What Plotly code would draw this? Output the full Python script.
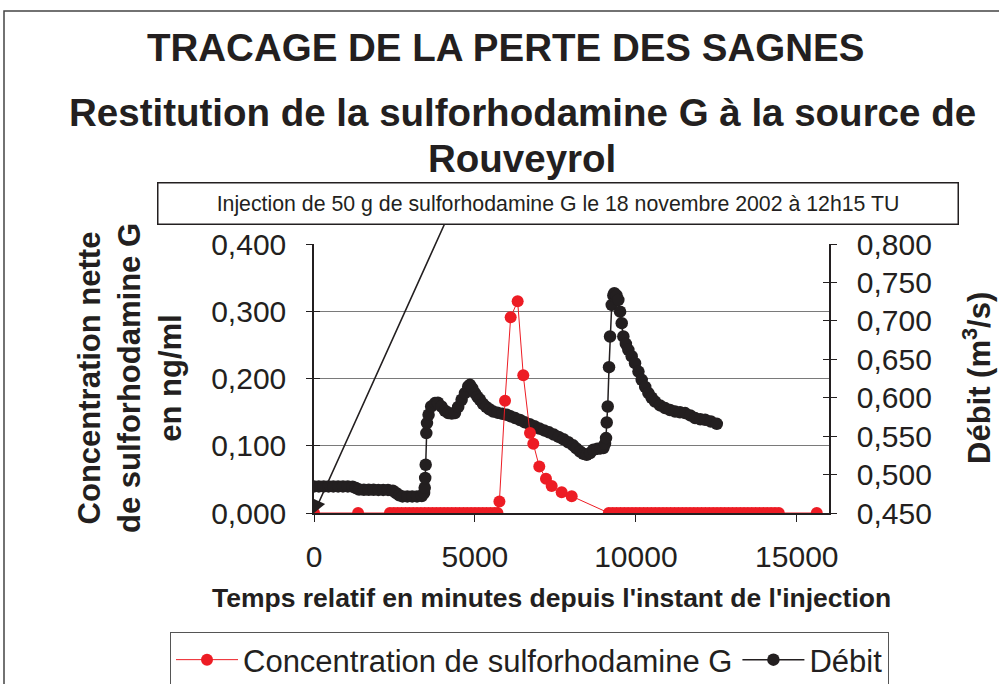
import plotly.graph_objects as go

# ---------------- data ----------------
conc_time = [0, 1370,
             2360, 2480, 2600, 2720, 2840, 2960, 3080, 3200, 3320, 3440, 3560, 3680, 3800, 3920,
             4040, 4160, 4280, 4400, 4520, 4640, 4760, 4880, 5000, 5120, 5240, 5360, 5480, 5600, 5700,
             5760, 5935, 6110, 6327, 6502, 6710, 6813, 6999, 7207, 7384, 7695, 8006,
             9160, 9280, 9400, 9520, 9640, 9760, 9880, 10000, 10120, 10240, 10360, 10480, 10600,
             10720, 10840, 10960, 11080, 11200, 11320, 11440, 11560, 11680, 11800, 11920, 12040,
             12160, 12280, 12400, 12520, 12640, 12760, 12880, 13000, 13120, 13240, 13360, 13480,
             13600, 13720, 13840, 13960, 14080, 14200, 14320, 14440,
             15620]
conc_value = [0, 0,
              0, 0, 0, 0, 0, 0, 0, 0, 0, 0, 0, 0, 0, 0,
              0, 0, 0, 0, 0, 0, 0, 0, 0, 0, 0, 0, 0, 0, 0,
              0.017, 0.167, 0.291, 0.315, 0.205, 0.119, 0.103, 0.069, 0.051, 0.040, 0.031, 0.025,
              0, 0, 0, 0, 0, 0, 0, 0, 0, 0, 0, 0, 0,
              0, 0, 0, 0, 0, 0, 0, 0, 0, 0, 0, 0,
              0, 0, 0, 0, 0, 0, 0, 0, 0, 0, 0, 0,
              0, 0, 0, 0, 0, 0, 0, 0,
              0]

debit_time = [0, 150, 300, 450, 600, 750, 900, 1050, 1200, 1300, 1400, 1550, 1700, 1850, 2000,
              2150, 2300, 2450, 2550, 2650, 2750, 2900, 3050, 3200, 3350, 3420, 3440, 3455, 3470,
              3490, 3510, 3560, 3640, 3760, 3850, 3960, 4070, 4170, 4280, 4380, 4480, 4586, 4690,
              4791, 4844, 4920, 5000, 5080, 5155, 5250, 5350, 5450, 5569, 5700, 5850, 5985, 6100,
              6250, 6400, 6550, 6700, 6850, 7000, 7150, 7300, 7450, 7600, 7750, 7900, 8050, 8150,
              8264, 8370, 8472, 8580, 8679, 8800, 8900, 8990, 9040, 9073, 9094, 9126, 9166, 9197,
              9250, 9300, 9331, 9400, 9455, 9510, 9561, 9611, 9690, 9766, 9870, 9974, 10080, 10182,
              10290, 10389, 10490, 10596, 10750, 10907, 11060, 11218, 11370, 11529, 11690, 11840,
              12000, 12151, 12330, 12515]
debit_value = [0.4846, 0.4846, 0.4846, 0.4846, 0.4846, 0.4846, 0.4846, 0.4846, 0.4843, 0.4825,
               0.4805, 0.4803, 0.4803, 0.4803, 0.4800, 0.4800, 0.4800, 0.4790, 0.4760, 0.4730,
               0.4716, 0.4716, 0.4716, 0.4716, 0.4720, 0.4760, 0.4830, 0.4955, 0.5128, 0.5540,
               0.5670, 0.5778, 0.5886, 0.5930, 0.5935, 0.5886, 0.5830, 0.5800, 0.5795, 0.5800,
               0.5880, 0.5973, 0.6060, 0.6146, 0.6168, 0.6120, 0.6060, 0.6010, 0.5973, 0.5920,
               0.5880, 0.5850, 0.5820, 0.5805, 0.5790, 0.5778, 0.5760, 0.5735, 0.5710, 0.5680,
               0.5655, 0.5630, 0.5600, 0.5575, 0.5550, 0.5520, 0.5490, 0.5460, 0.5420, 0.5380,
               0.5340, 0.5300, 0.5270, 0.5258, 0.5280, 0.5323, 0.5335, 0.5340, 0.5345, 0.5400,
               0.5475, 0.5678, 0.5886, 0.6398, 0.6796, 0.7207, 0.7330, 0.7360, 0.7330, 0.7272,
               0.7120, 0.6970, 0.6796, 0.6700, 0.6623, 0.6540, 0.6450, 0.6340, 0.6233, 0.6140,
               0.6060, 0.6000, 0.5950, 0.5900, 0.5865, 0.5840, 0.5820, 0.5810, 0.5800, 0.5770,
               0.5735, 0.5720, 0.5713, 0.5690, 0.5660]

x_ticks = [0, 5000, 10000, 15000]
conc_ticks = [0, 0.1, 0.2, 0.3, 0.4]
debit_ticks = [0.45, 0.5, 0.55, 0.6, 0.65, 0.7, 0.75, 0.8]

title1 = "TRACAGE DE LA PERTE DES SAGNES"
title2 = "Restitution de la sulforhodamine G à la source de"
title3 = "Rouveyrol"
note = "Injection de 50 g de sulforhodamine G le 18 novembre 2002 à 12h15 TU"

# ---------------- layout geometry ----------------
W, H = 999, 684
ML, MR, MT, MB = 314, 170, 244, 171
PW, PH = W - ML - MR, H - MT - MB
BOTTOM = MT + PH


def px(x):
    return (x - ML) / PW


def py(y):
    return (BOTTOM - y) / PH


FONT = "Liberation Sans, Arial, sans-serif"
INK = "#231f20"
RED = "#ed1c24"

fig = go.Figure()

fig.add_trace(go.Scatter(
    x=debit_time, y=debit_value, name="Débit", mode="lines+markers",
    line=dict(color=INK, width=1.5), marker=dict(color=INK, size=12.5),
    xaxis="x", yaxis="y"))
fig.add_trace(go.Scatter(
    x=conc_time, y=conc_value, name="Concentration de sulforhodamine G", mode="lines+markers",
    line=dict(color=RED, width=1), marker=dict(color=RED, size=12),
    xaxis="x", yaxis="y2"))
# helper traces for the inner half of the crossing tick marks
fig.add_trace(go.Scatter(x=[None], y=[None], yaxis="y3", showlegend=False, hoverinfo="skip"))
fig.add_trace(go.Scatter(x=[None], y=[None], yaxis="y4", showlegend=False, hoverinfo="skip"))

tickfont = dict(family=FONT, size=30, color=INK)

fig.update_layout(
    width=W, height=H,
    margin=dict(l=ML, r=MR, t=MT, b=MB, autoexpand=False),
    paper_bgcolor="white", plot_bgcolor="white",
    separators=", ",
    font=dict(family=FONT, color=INK),
    xaxis=dict(range=[0, 16000], tickvals=x_ticks, tickformat="d", showgrid=False,
               zeroline=False, showline=True, linecolor=INK, linewidth=1.5,
               ticks="outside", ticklen=7, tickcolor=INK, tickwidth=1.2,
               tickfont=tickfont, ticklabelstandoff=9),
    yaxis=dict(range=[0.45, 0.8], tickvals=debit_ticks, tickformat=".3f", side="right",
               showgrid=False, zeroline=False, showline=True, linecolor=INK, linewidth=1.5,
               ticks="outside", ticklen=6, tickcolor=INK, tickwidth=1.2,
               tickfont=tickfont, ticklabelstandoff=14),
    yaxis2=dict(range=[0, 0.4], tickvals=conc_ticks, tickformat=".3f", side="left",
                overlaying="y", showgrid=True, gridcolor="#7a7a7a", gridwidth=1,
                zeroline=False, showline=True, linecolor=INK, linewidth=1.5,
                ticks="outside", ticklen=6, tickcolor=INK, tickwidth=1.2,
                tickfont=tickfont, ticklabelstandoff=14),
    yaxis3=dict(range=[0, 0.4], tickvals=conc_ticks, side="left", overlaying="y",
                showgrid=False, zeroline=False, showline=False, showticklabels=False,
                ticks="inside", ticklen=6, tickcolor=INK, tickwidth=1.2),
    yaxis4=dict(range=[0.45, 0.8], tickvals=debit_ticks, side="right", overlaying="y",
                showgrid=False, zeroline=False, showline=False, showticklabels=False,
                ticks="inside", ticklen=6, tickcolor=INK, tickwidth=1.2),
    legend=dict(orientation="h", xref="paper", yref="paper",
                x=px(170), y=py(632), xanchor="left", yanchor="top",
                bordercolor="#555555", borderwidth=1, bgcolor="white",
                font=dict(family=FONT, size=31, color=INK),
                traceorder="reversed", itemwidth=62),
    showlegend=True,
)

ann = []
# arrow from note box to injection point
ann.append(dict(x=0, y=0, xref="paper", yref="paper", text="", showarrow=True,
                ax=131, ay=-290, arrowhead=2, arrowsize=1.6, arrowwidth=1.6,
                arrowcolor=INK, standoff=0))
# note box
ann.append(dict(x=px(557.5), y=py(203), xref="paper", yref="paper", text=note,
                showarrow=False, xanchor="center", yanchor="middle",
                width=797, height=38, bgcolor="white", bordercolor=INK, borderwidth=1.5,
                font=dict(family=FONT, size=21.3, color=INK)))
# titles
ann.append(dict(x=px(505), y=py(47), xref="paper", yref="paper", text="<b>%s</b>" % title1,
                showarrow=False, xanchor="center", yanchor="middle",
                font=dict(family=FONT, size=38.5, color=INK)))
ann.append(dict(x=px(522), y=py(112), xref="paper", yref="paper", text="<b>%s</b>" % title2,
                showarrow=False, xanchor="center", yanchor="middle",
                font=dict(family=FONT, size=38.5, color=INK)))
ann.append(dict(x=px(522), y=py(158), xref="paper", yref="paper", text="<b>%s</b>" % title3,
                showarrow=False, xanchor="center", yanchor="middle",
                font=dict(family=FONT, size=38.5, color=INK)))
# axis titles
ann.append(dict(x=px(130), y=py(378), xref="paper", yref="paper",
                text="<b>Concentration nette<br>de sulforhodamine G<br>en ng/ml</b>",
                textangle=-90, showarrow=False, xanchor="center", yanchor="middle",
                font=dict(family=FONT, size=31, color=INK)))
ann.append(dict(x=px(977), y=py(378), xref="paper", yref="paper",
                text="<b>Débit (m<sup>3</sup>/s)</b>",
                textangle=-90, showarrow=False, xanchor="center", yanchor="middle",
                font=dict(family=FONT, size=31, color=INK)))
ann.append(dict(x=px(551), y=py(598), xref="paper", yref="paper",
                text="<b>Temps relatif en minutes depuis l'instant de l'injection</b>",
                showarrow=False, xanchor="center", yanchor="middle",
                font=dict(family=FONT, size=26.5, color=INK)))
fig.update_layout(annotations=ann)

# outer chart frame
fig.add_shape(type="rect", xref="paper", yref="paper",
              x0=px(4), x1=px(1010), y0=py(700), y1=py(11),
              line=dict(color="#444444", width=1.5), fillcolor="rgba(0,0,0,0)", layer="below")

fig.write_html("out.html", config={"displayModeBar": False},
               post_script="document.body.style.margin='0';document.body.style.overflow='hidden';")
